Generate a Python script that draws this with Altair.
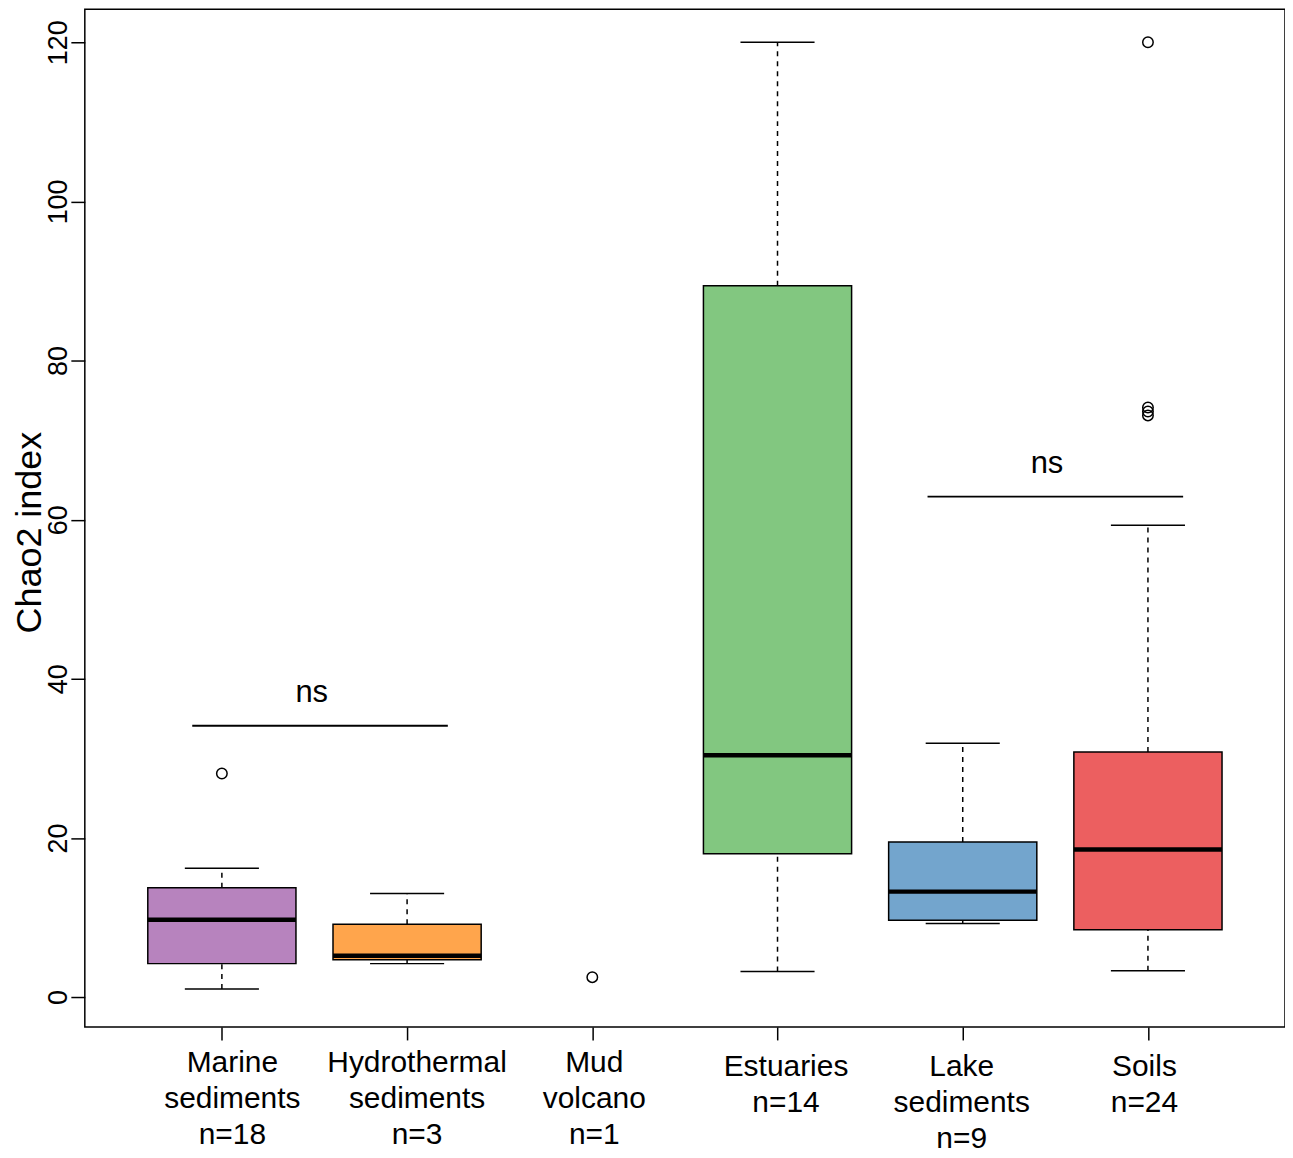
import altair as alt
import pandas as pd

# ---------------- data ----------------
groups = ["Marine sediments", "Hydrothermal sediments", "Mud volcano",
          "Estuaries", "Lake sediments", "Soils"]
label_text = ["Marine\nsediments\nn=18", "Hydrothermal\nsediments\nn=3",
              "Mud\nvolcano\nn=1", "Estuaries\nn=14", "Lake\nsediments\nn=9",
              "Soils\nn=24"]
n_obs = [18, 3, 1, 14, 9, 24]

# box statistics (Mud volcano has a single observation, drawn as a point)
whisker_low = [1.0, 4.2, None, 3.2, 9.25, 3.3]
q1 = [4.2, 4.7, None, 18.0, 9.65, 8.45]
median = [9.7, 5.2, None, 30.4, 13.25, 18.55]
q3 = [13.75, 9.15, None, 89.4, 19.5, 30.8]
whisker_high = [16.2, 13.0, None, 120.0, 31.9, 59.3]

outlier_group = [1, 3, 6, 6, 6, 6]
outlier_value = [28.1, 2.5, 120.0, 74.1, 73.6, 73.1]

# significance annotations ("ns")
ns_x_start = [0.84, 4.81]
ns_x_end = [2.22, 6.19]
ns_y = [34.1, 62.9]
ns_text_x = [1.485, 5.455]

fill_colors = ["#B783BE", "#FFA54C", "#82C780", "#73A5CD", "#EC5F60"]

# ---------------- styling ----------------
FONT = "Liberation Sans"
PX_PER_UNIT = 1203 / 6.48
label_nudge_px = [10.5, 10, 2, 8.5, -1, -3.5]

x_scale = alt.Scale(domain=[0.26, 6.74], nice=False, zero=False)
y_scale = alt.Scale(domain=[-3.76, 124.14], nice=False, zero=False)

x_axis = alt.Axis(values=[1, 2, 3, 4, 5, 6], labels=False, domain=False, grid=False,
                  tickSize=13, tickWidth=1.5, tickColor="black", title="")
y_axis = alt.Axis(values=[0, 20, 40, 60, 80, 100, 120], domain=False, grid=False,
                  tickSize=14, tickWidth=1.5, tickColor="black",
                  labelAngle=270, labelAlign="center", labelBaseline="alphabetic",
                  labelPadding=4, labelFontSize=27, labelFont=FONT, labelColor="black",
                  labelOverlap=False, labelFlush=False,
                  title="Chao2 index", titleFont=FONT, titleFontSize=36,
                  titleFontWeight="normal", titleColor="black", titleAngle=270,
                  titleAlign="center", titleBaseline="alphabetic",
                  titleX=-44, titleY=524)


def X(field):
    return alt.X(field, type="quantitative", scale=x_scale, axis=x_axis)


def Y(field):
    return alt.Y(field, type="quantitative", scale=y_scale, axis=y_axis)


# ---------------- tables ----------------
stats = pd.DataFrame({
    "group": groups, "pos": list(range(1, len(groups) + 1)),
    "wlo": whisker_low, "q1": q1, "med": median, "q3": q3, "whi": whisker_high,
}).dropna()

outliers = pd.DataFrame({"pos": outlier_group, "value": outlier_value})
ns_df = pd.DataFrame({"x1": ns_x_start, "x2": ns_x_end, "y": ns_y,
                      "tx": ns_text_x, "t": ["ns", "ns"]})
labels = pd.DataFrame({"pos": list(range(1, len(groups) + 1)), "label": label_text,
                       "nudge": label_nudge_px, "n": n_obs})

box_base = alt.Chart(stats).transform_calculate(
    box_l="datum.pos - 0.4", box_r="datum.pos + 0.4",
    cap_l="datum.pos - 0.2", cap_r="datum.pos + 0.2")

whisk_lo = box_base.mark_rule(color="black", strokeWidth=1.5, strokeDash=[5, 5]).encode(
    x=X("pos"), y=Y("wlo"), y2="q1:Q")
whisk_hi = box_base.mark_rule(color="black", strokeWidth=1.5, strokeDash=[5, 5]).encode(
    x=X("pos"), y=Y("q3"), y2="whi:Q")
cap_lo = box_base.mark_rule(color="black", strokeWidth=1.5).encode(
    x=X("cap_l"), x2="cap_r:Q", y=Y("wlo"))
cap_hi = box_base.mark_rule(color="black", strokeWidth=1.5).encode(
    x=X("cap_l"), x2="cap_r:Q", y=Y("whi"))
boxes = box_base.mark_rect(stroke="black", strokeWidth=1.5).encode(
    x=X("box_l"), x2="box_r:Q", y=Y("q1"), y2="q3:Q",
    color=alt.Color("group:N", legend=None,
                    scale=alt.Scale(domain=list(stats["group"]), range=fill_colors)))
medians = box_base.mark_rule(color="black", strokeWidth=4.5).encode(
    x=X("box_l"), x2="box_r:Q", y=Y("med"))

out_pts = alt.Chart(outliers).mark_point(
    shape="circle", filled=False, size=110, stroke="black", strokeWidth=1.5, opacity=1
).encode(x=X("pos"), y=Y("value"))

ns_rules = alt.Chart(ns_df).mark_rule(color="black", strokeWidth=1.8).encode(
    x=X("x1"), x2="x2:Q", y=Y("y"))
ns_text = alt.Chart(ns_df).mark_text(
    font=FONT, fontSize=31, color="black", baseline="alphabetic", align="center", dy=-24
).encode(x=X("tx"), y=Y("y"), text="t:N")

lab_base = alt.Chart(labels).transform_calculate(
    lx=f"datum.pos + datum.nudge / {PX_PER_UNIT}")
lab_top = lab_base.transform_filter("datum.pos <= 3").mark_text(
    font=FONT, fontSize=30, color="black", align="center", baseline="alphabetic",
    lineBreak="\n", lineHeight=36
).encode(x=X("lx"), y=alt.value(1065), text="label:N")
lab_low = lab_base.transform_filter("datum.pos > 3").mark_text(
    font=FONT, fontSize=30, color="black", align="center", baseline="alphabetic",
    lineBreak="\n", lineHeight=36
).encode(x=X("lx"), y=alt.value(1069), text="label:N")

chart = alt.layer(
    whisk_lo, whisk_hi, cap_lo, cap_hi, boxes, medians, out_pts,
    ns_rules, ns_text, lab_top, lab_low
).properties(
    width=1203, height=1020,
    autosize=alt.AutoSizeParams(type="none"),
    padding={"left": 77, "top": 0, "right": 0, "bottom": 130},
    background="white",
).configure_view(stroke="black", strokeWidth=1.5)

chart.save("out.html", embed_options={"renderer": "svg", "actions": False})
